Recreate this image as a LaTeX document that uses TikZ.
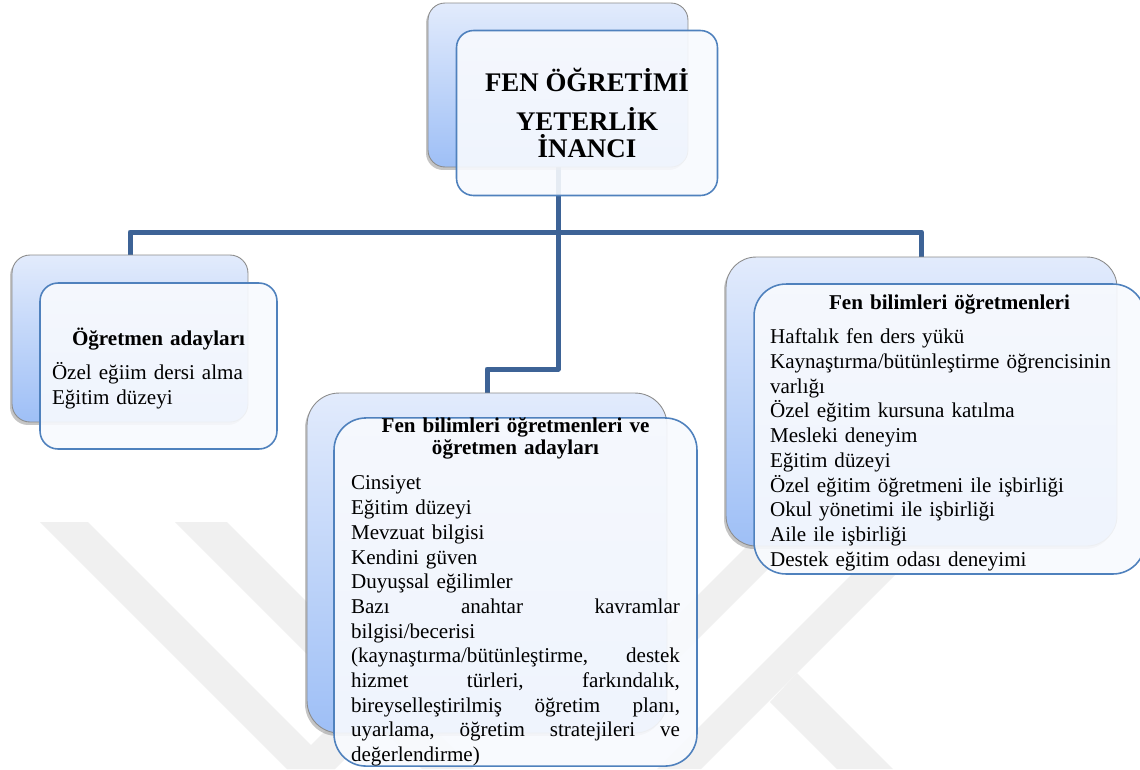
\documentclass[tikz,border=0pt]{standalone}
\usepackage{fontspec}
\setmainfont{Liberation Serif}
\usetikzlibrary{shadows,backgrounds}
\definecolor{linkblue}{RGB}{61,99,150}
\definecolor{frameblue}{RGB}{79,129,189}
\definecolor{backtop}{RGB}{226,235,252}
\definecolor{backbottom}{RGB}{158,191,246}
\definecolor{frontfill}{RGB}{248,250,254}
\definecolor{markgray}{RGB}{240,240,240}
\newlength{\midwd}
\setlength{\midwd}{6.58cm}
\newcommand{\jline}[1]{\leavevmode\hbox to\midwd{#1}}
\newcommand{\bodyfont}{\fontsize{12}{14.05}\selectfont}
\tikzset{
	backbox/.style={draw=black!45, line width=0.5pt, top color=backtop,
		bottom color=backbottom, inner sep=0pt,
		drop shadow={shadow xshift=-0.04cm, shadow yshift=-0.06cm, opacity=0.45}},
	frontbox/.style={draw=frameblue, line width=0.9pt, fill=frontfill,
		fill opacity=0.9, text opacity=1, inner ysep=0pt, font=\bodyfont},
	link/.style={draw=linkblue, line width=0.1cm, line join=round},
	wmark/.style={fill=markgray, draw=none}
}
\begin{document}
\begin{tikzpicture}[x=0.02cm, y=-0.02cm]
			\useasboundingbox (0,0) rectangle (1140,769);
			\node[backbox, rounded corners=0.34cm, minimum width=5.2cm,
			minimum height=3.28cm] (topback) at (558,85) {};
			\node[frontbox, rounded corners=0.34cm, minimum width=5.22cm,
			minimum height=3.3cm, align=center,
			font=\fontsize{15.3}{22.1}\selectfont\bfseries] (title) at (587,113)
			{FEN ÖĞRETİMİ\\YETERLİK\\[-6.8pt]İNANCI};
			\node[backbox, rounded corners=0.36cm, minimum width=4.72cm,
			minimum height=3.34cm] (leftback) at (130,338.5) {};
			\node[frontbox, rounded corners=0.36cm, minimum width=4.74cm,
			minimum height=3.32cm, inner xsep=0.24cm, text width=4.26cm] (leftfront) at (158.5,366)
			{{\centering\bfseries\rule{0pt}{12.6pt}Öğretmen adayları\par}\vspace{5.4pt}
				{\raggedright Özel eğiim dersi alma\\Eğitim düzeyi\par}};
			\node[backbox, rounded corners=0.64cm, minimum width=7.2cm,
			minimum height=6.8cm] (midback) at (487,563) {};
			\node[frontbox, rounded corners=0.64cm, minimum width=7.26cm,
			minimum height=6.82cm, inner xsep=0.34cm, text width=6.58cm] (midfront) at (515.5,592)
			{{\centering\bfseries\fontsize{12}{12.5}\selectfont Fen bilimleri öğretmenleri ve\\öğretmen adayları\par}\vspace{6pt}
				{\raggedright Cinsiyet\\Eğitim düzeyi\\Mevzuat bilgisi\\Kendini güven\\Duyuşsal eğilimler\\
					\jline{Bazı\hfill anahtar\hfill kavramlar}\\bilgisi/becerisi\\
					\jline{(kaynaştırma/bütünleştirme,\hfill destek}\\
					\jline{hizmet\hfill türleri,\hfill farkındalık,}\\
					\jline{bireyselleştirilmiş\hfill öğretim\hfill planı,}\\
					\jline{uyarlama,\hfill öğretim\hfill stratejileri\hfill ve}\\
					değerlendirme)\par}\vspace{-3.4pt}};
			\node[backbox, rounded corners=0.6cm, minimum width=7.82cm,
			minimum height=5.78cm] (rightback) at (921.5,401.5) {};
			\node[frontbox, rounded corners=0.64cm, minimum width=7.82cm,
			minimum height=5.8cm, inner xsep=0.32cm, text width=7.18cm] (rightfront) at (949.5,429)
			{{\centering\bfseries\rule{0pt}{12.7pt}Fen bilimleri öğretmenleri\par}\vspace{5.4pt}
				{\raggedright Haftalık fen ders yükü\\Kaynaştırma/bütünleştirme öğrencisinin\\varlığı\\
					Özel eğitim kursuna katılma\\Mesleki deneyim\\Eğitim düzeyi\\
					Özel eğitim öğretmeni ile işbirliği\\Okul yönetimi ile işbirliği\\
					Aile ile işbirliği\\Destek eğitim odası deneyimi\par}};
			\begin{scope}[on background layer]
				\fill[white] (0,0) rectangle (1140,769);
				\fill[wmark] (40,522) -- (88,522) -- (335,769) -- (287,769) -- cycle;
				\fill[wmark] (175,522) -- (227,522) -- (474,769) -- (422,769) -- cycle;
				\fill[wmark] (287,769) -- (335,769) -- (400,704) -- (352,704) -- cycle;
				\fill[wmark] (753,540) -- (797,540) -- (637,700) -- (593,700) -- cycle;
				\fill[wmark] (866,560) -- (910,560) -- (701,769) -- (657,769) -- cycle;
				\fill[wmark] (797,673) -- (770,702) -- (837,769) -- (893,769) -- cycle;
				\coordinate (hub) at (558,232);
				\draw[link] (topback.south) -- (hub);
				\draw[link] (leftback.north) |- (hub) -| (rightback.north);
				\draw[link] (hub) -- ++(0,137) -| (midback.north);
			\end{scope}
		\end{tikzpicture}
\end{document}
